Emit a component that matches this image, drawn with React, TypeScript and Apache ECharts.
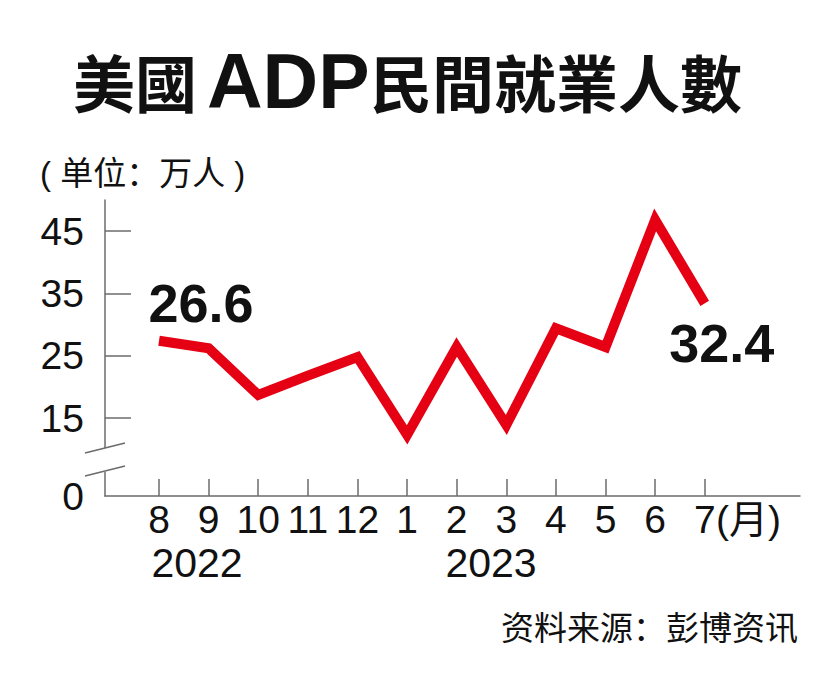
import React, { useEffect, useRef } from 'react';
import * as echarts from 'echarts';

// ---- data ----
const months = ['8', '9', '10', '11', '12', '1', '2', '3', '4', '5', '6', '7'];
const values = [27.4, 26.2, 18.7, 21.8, 24.8, 12.3, 26.4, 13.9, 29.4, 26.4, 46.8, 33.4];
const callouts = ['26.6', '', '', '', '', '', '', '', '', '', '', '32.4'];
const yTickValues = [15, 25, 35, 45];
const zeroLabel = '0';
const years = ['2022', '2023'];
const titleParts = ['美國', 'ADP', '民間就業人數'];
const unitText = '( 单位：万人 )';
const monthUnit = '(月)';
const sourceText = '资料来源：彭博资讯';

const LATIN = '"Liberation Sans", Arial, sans-serif';
const TC = '"Noto Sans CJK TC", "Noto Sans CJK SC", sans-serif';
const SC = '"Noto Sans CJK SC", sans-serif';
const MIX = '"Liberation Sans", "Noto Sans CJK SC", sans-serif';

// axis break: value at which the "0" baseline sits
const Y_FLOOR = 2.49;
const AXIS_COLOR = '#6b6b6b';
const RED = '#e50014';

export default function App() {
  const ref = useRef<HTMLDivElement>(null);

  useEffect(() => {
    document.body.style.margin = '0';
    const chart = echarts.init(ref.current!, null, { renderer: 'svg' });
    const data = values.map((v, i) => {
      const item: any = { value: [i, v] };
      if (callouts[i]) {
        item.label = {
          show: true,
          position: 'inside',
          offset: i === 0 ? [42, -38] : [17, 40],
          formatter: () => callouts[i],
          fontFamily: LATIN,
          fontWeight: 'bold',
          fontSize: 54,
          color: '#111',
        };
      }
      return item;
    });

    chart.setOption({
      animation: false,
      backgroundColor: '#fff',
      grid: { left: 105, right: 27, top: 200, bottom: 194 },
      xAxis: {
        type: 'value',
        min: -1.089,
        max: 12.92,
        splitLine: { show: false },
        axisLine: { show: true, onZero: false, lineStyle: { color: AXIS_COLOR, width: 1.5 } },
        axisTick: {
          show: true,
          inside: true,
          length: 17,
          customValues: months.map((_, i) => i),
          lineStyle: { color: AXIS_COLOR, width: 1.5 },
        },
        axisLabel: {
          customValues: months.map((_, i) => i),
          formatter: (v: number) => months[Math.round(v)],
          margin: 4,
          fontFamily: LATIN,
          fontSize: 39,
          color: '#111',
        },
      },
      yAxis: {
        type: 'value',
        min: Y_FLOOR,
        max: 50,
        splitLine: { show: false },
        axisLine: { show: true, onZero: false, lineStyle: { color: AXIS_COLOR, width: 1.5 } },
        axisTick: {
          show: true,
          inside: true,
          length: 26,
          customValues: yTickValues,
          lineStyle: { color: AXIS_COLOR, width: 1.5 },
        },
        axisLabel: {
          customValues: [Y_FLOOR, ...yTickValues],
          formatter: (v: number) => (v < yTickValues[0] - 5 ? zeroLabel : String(v)),
          margin: 21,
          fontFamily: LATIN,
          fontSize: 39,
          color: '#111',
        },
      },
      series: [
        {
          type: 'line',
          data,
          symbol: 'circle',
          symbolSize: 1,
          showSymbol: true,
          itemStyle: { color: 'rgba(0,0,0,0)' },
          lineStyle: { color: RED, width: 10, join: 'miter', cap: 'butt' },
          label: { show: false },
          z: 3,
        },
      ],
      graphic: [
        // title
        {
          type: 'text', x: 73, y: 81, z: 100,
          style: { text: titleParts[0], font: `bold 62px ${TC}`, fill: '#111', textVerticalAlign: 'middle' },
        },
        {
          type: 'text', x: 207, y: 81, z: 100,
          style: { text: titleParts[1], font: `bold 77px ${LATIN}`, fill: '#111', textVerticalAlign: 'middle' },
        },
        {
          type: 'text', x: 370, y: 81, z: 100,
          style: { text: titleParts[2], font: `bold 62px ${TC}`, fill: '#111', textVerticalAlign: 'middle' },
        },
        // unit
        {
          type: 'text', x: 40, y: 173, z: 100,
          style: { text: unitText, font: `33px ${MIX}`, fill: '#111', textVerticalAlign: 'middle' },
        },
        // years
        {
          type: 'text', x: 197, y: 563, z: 100,
          style: { text: years[0], font: `41px ${LATIN}`, fill: '#111', textAlign: 'center', textVerticalAlign: 'middle' },
        },
        {
          type: 'text', x: 491, y: 563, z: 100,
          style: { text: years[1], font: `41px ${LATIN}`, fill: '#111', textAlign: 'center', textVerticalAlign: 'middle' },
        },
        // month unit
        {
          type: 'text', x: 716, y: 519, z: 100,
          style: { text: monthUnit, font: `39px ${MIX}`, fill: '#111', textVerticalAlign: 'middle' },
        },
        // source
        {
          type: 'text', x: 798, y: 626, z: 100,
          style: { text: sourceText, font: `33px ${SC}`, fill: '#111', textAlign: 'right', textVerticalAlign: 'middle' },
        },
        // axis break
        {
          type: 'rect', z: 100,
          shape: { x: 99, y: 448, width: 12, height: 24 },
          style: { fill: '#fff' },
        },
        {
          type: 'line', z: 101,
          shape: { x1: 85, y1: 453, x2: 125, y2: 443 },
          style: { stroke: AXIS_COLOR, lineWidth: 1.5 },
        },
        {
          type: 'line', z: 101,
          shape: { x1: 85, y1: 476, x2: 125, y2: 466 },
          style: { stroke: AXIS_COLOR, lineWidth: 1.5 },
        },
      ],
    });
    return () => chart.dispose();
  }, []);

  return (
    <div
      ref={ref}
      style={{ position: 'absolute', left: 0, top: 0, width: 827, height: 690, background: '#fff' }}
    />
  );
}
